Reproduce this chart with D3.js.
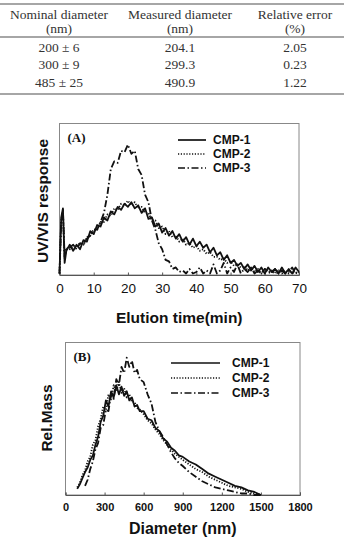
<!DOCTYPE html>
<html>
<head>
<meta charset="utf-8">
<script src="https://cdn.jsdelivr.net/npm/d3@7"></script>
<style>
  body { margin: 0; background: #fff; }
  svg { display: block; }
</style>
</head>
<body>
<svg id="fig" width="344" height="537"></svg>
<script>
// table
const tableHeader = [['Nominal diameter', '(nm)'], ['Measured diameter', '(nm)'], ['Relative error', '(%)']];
const nominalDiameter = ['200 \u00b1 6', '300 \u00b1 9', '485 \u00b1 25'];
const measuredDiameter = ['204.1', '299.3', '490.9'];
const relativeError = ['2.05', '0.23', '1.22'];

// (A) elution time (min) vs UV/VIS response (arbitrary units)
const elutionTime = [0, 0.5, 1, 1.5, 2, 3, 4, 5, 6, 7, 8, 9, 10, 11, 12, 13, 14, 15, 16, 17, 18, 19, 20,
  21, 22, 23, 24, 25, 26, 27, 28, 29, 30, 31, 32, 33, 34, 35, 36, 37, 38, 39, 40, 41, 42, 43, 44, 45,
  46, 47, 48, 49, 50, 51, 52, 53, 54, 55, 56, 57, 58, 59, 60, 61, 62, 63, 64, 65, 66, 67, 68, 69, 70];
const uvCmp1 = [1, 38, 44, 8, 16, 20, 16, 20, 17, 23, 22, 29, 27, 33, 32, 38, 36, 42, 40, 45, 43, 47, 45,
  48, 44, 46, 41, 44, 37, 38, 32, 34, 28, 31, 26, 29, 24, 27, 22, 25, 20, 24, 19, 22, 18, 20, 15, 18,
  13, 15, 10, 13, 8, 10, 6, 8, 4, 7, 3, 6, 2, 5, 1, 5, 2, 4, 1, 5, 1, 4, 1, 5, 2];
const uvCmp2 = [1, 36, 42, 11, 18, 17, 19, 19, 21, 20, 25, 26, 30, 30, 35, 35, 40, 39, 44, 43, 47, 46, 49,
  46, 48, 44, 45, 41, 41, 36, 36, 31, 32, 27, 29, 25, 26, 22, 24, 20, 21, 18, 19, 16, 17, 14, 15, 12,
  12, 10, 11, 8, 9, 6, 7, 5, 6, 3, 5, 2, 4, 1, 4, 2, 3, 1, 3, 1, 3, 1, 2, 1, 2];
const uvCmp3 = [1, 35, 43, 12, 17, 18, 20, 17, 21, 20, 24, 26, 30, 30, 35, 41, 53, 70, 75, 74, 82, 81, 86,
  80, 82, 70, 66, 53, 48, 36, 30, 21, 17, 10, 9, 4, 5, 2, 3, 1, 4, 1, 2, 5, 1, 3, 1, 7,
  1, 3, 8, 1, 5, 2, 7, 1, 4, 2, 5, 1, 3, 1, 4, 2, 1, 4, 1, 3, 1, 2, 5, 1, 3];

// (B) diameter (nm) vs relative mass
const diameterNm = [90, 110, 130, 150, 170, 190, 210, 230, 250, 270, 290, 310, 330, 350, 370, 390, 410, 430,
  450, 470, 490, 510, 530, 550, 570, 600, 630, 660, 690, 720, 750, 780, 810, 840, 870, 900, 950, 1000,
  1050, 1100, 1150, 1200, 1250, 1300, 1350, 1400, 1450, 1500];
const massCmp1 = [4, 7, 11, 15, 18, 23, 26, 33, 38, 48, 52, 62, 58, 68, 64, 72, 66, 71, 65, 68, 62, 64,
  58, 59, 55, 55, 50, 49, 44, 42, 37, 35, 31, 29, 26, 25, 22, 20, 17, 14, 12, 10, 8, 6, 5, 3, 2, 0];
const massCmp2 = [5, 8, 13, 16, 22, 25, 33, 36, 45, 50, 58, 56, 66, 62, 72, 68, 74, 67, 70, 64, 66, 61,
  61, 57, 56, 53, 49, 47, 43, 40, 36, 33, 30, 27, 25, 23, 20, 17, 15, 12, 10, 8, 6, 5, 4, 2, 1, 0];
const massCmp3 = [null, null, null, 6, 10, 17, 22, 30, 34, 44, 46, 56, 55, 66, 63, 76, 72, 84, 80, 90, 84,
  88, 80, 82, 76, 74, 66, 60, 48, 42, 38, 33, 28, 24, 21, 19, 15, 12, 9, 7, 5, 4, 3, 2, 1, 1, 0, 0];

const svg = d3.select('#fig');
const sans = "'Liberation Sans', Arial, sans-serif";
const serif = "'Liberation Serif', 'Times New Roman', serif";
const ink = '#111';

// ---- table ----
const colX = [59, 180, 295];
[4, 37, 94].forEach(function (y) {
  svg.append('line').attr('x1', 0).attr('x2', 344).attr('y1', y).attr('y2', y)
    .attr('stroke', '#888').attr('stroke-width', 1.5);
});
tableHeader.forEach(function (h, i) {
  h.forEach(function (txt, j) {
    svg.append('text').attr('x', colX[i]).attr('y', 18.5 + j * 14).text(txt)
      .attr('text-anchor', 'middle').attr('font-family', serif).attr('font-size', 13.5).attr('fill', '#333');
  });
});
nominalDiameter.forEach(function (d, r) {
  [d, measuredDiameter[r], relativeError[r]].forEach(function (txt, i) {
    svg.append('text').attr('x', colX[i]).attr('y', 51.5 + r * 17.5).text(txt)
      .attr('text-anchor', 'middle').attr('font-family', serif).attr('font-size', 13.5).attr('fill', '#333');
  });
});

// ---- shared plotting helper ----
const styles = [
  { name: 'CMP-1', dash: null },
  { name: 'CMP-2', dash: '1.2,1.6' },
  { name: 'CMP-3', dash: '7,2.5,1.5,2.5' },
];

function drawPanel(opt) {
  const x = d3.scaleLinear().domain(opt.xDomain).range([opt.left, opt.right]);
  const y = d3.scaleLinear().domain([0, 100]).range([opt.bottom, opt.top]);
  const g = svg.append('g');

  g.append('rect').attr('x', opt.left).attr('y', opt.top)
    .attr('width', opt.right - opt.left).attr('height', opt.bottom - opt.top)
    .attr('fill', 'none').attr('stroke', '#888').attr('stroke-width', 1);

  const axis = g.append('g').attr('transform', 'translate(0,' + opt.bottom + ')')
    .call(d3.axisBottom(x).tickValues(opt.ticks).tickFormat(d3.format('d'))
      .tickSize(-2.5).tickPadding(opt.tickPad));
  axis.select('.domain').attr('stroke', '#555');
  axis.selectAll('.tick line').attr('stroke', '#555');
  axis.selectAll('text').attr('font-family', sans).attr('font-size', opt.tickSize)
    .attr('font-weight', opt.tickWeight).attr('fill', ink);

  const line = d3.line()
    .defined(function (d) { return d[1] !== null; })
    .x(function (d) { return x(d[0]); })
    .y(function (d) { return y(d[1]); });

  opt.series.forEach(function (vals, i) {
    g.append('path')
      .datum(opt.xs.map(function (v, k) { return [v, vals[k]]; }))
      .attr('fill', 'none').attr('stroke', ink).attr('stroke-width', 1.8)
      .attr('stroke-linejoin', 'round')
      .attr('stroke-dasharray', styles[i].dash)
      .attr('d', line);
  });

  // legend
  styles.forEach(function (s, i) {
    const ly = opt.legY + i * opt.legStep;
    g.append('line').attr('x1', opt.legX1).attr('x2', opt.legX2).attr('y1', ly).attr('y2', ly)
      .attr('stroke', ink).attr('stroke-width', 1.7).attr('stroke-dasharray', s.dash);
    g.append('text').attr('x', opt.legText).attr('y', ly).attr('dy', '0.35em').text(s.name)
      .attr('font-family', sans).attr('font-weight', 'bold').attr('font-size', 12).attr('fill', ink);
  });

  g.append('text').attr('x', opt.left + 8).attr('y', opt.top + 18).text(opt.panel)
    .attr('font-family', serif).attr('font-weight', 'bold').attr('font-size', 13).attr('fill', ink);

  g.append('text').attr('x', (opt.left + opt.right) / 2).attr('y', opt.xLabelY).text(opt.xLabel)
    .attr('text-anchor', 'middle').attr('font-family', sans).attr('font-weight', 'bold')
    .attr('font-size', opt.xLabelSize).attr('fill', ink);

  g.append('text').attr('transform', 'translate(' + opt.yLabelX + ',' + opt.yLabelY + ') rotate(-90)')
    .text(opt.yLabel).attr('text-anchor', 'middle').attr('dy', '0.35em')
    .attr('font-family', sans).attr('font-weight', 'bold').attr('font-size', 15.5).attr('fill', ink);
}

drawPanel({
  left: 59.5, right: 299, top: 123.5, bottom: 275,
  xDomain: [0, 70], ticks: [0, 10, 20, 30, 40, 50, 60, 70],
  tickSize: 13.5, tickWeight: 'normal', tickPad: 8,
  xs: elutionTime, series: [uvCmp1, uvCmp2, uvCmp3],
  legY: 140, legStep: 14, legX1: 178, legX2: 206, legText: 213,
  panel: '(A)',
  xLabel: 'Elution time(min)', xLabelY: 323, xLabelSize: 15.5,
  yLabel: 'UV/VIS response', yLabelX: 43, yLabelY: 201,
});

drawPanel({
  left: 65.5, right: 300, top: 342.5, bottom: 495,
  xDomain: [0, 1800], ticks: [0, 300, 600, 900, 1200, 1500, 1800],
  tickSize: 11, tickWeight: 'bold', tickPad: 8,
  xs: diameterNm, series: [massCmp1, massCmp2, massCmp3],
  legY: 363, legStep: 15, legX1: 171, legX2: 220, legText: 232,
  panel: '(B)',
  xLabel: 'Diameter (nm)', xLabelY: 534, xLabelSize: 16,
  yLabel: 'Rel.Mass', yLabelX: 47, yLabelY: 418,
});
</script>
</body>
</html>
